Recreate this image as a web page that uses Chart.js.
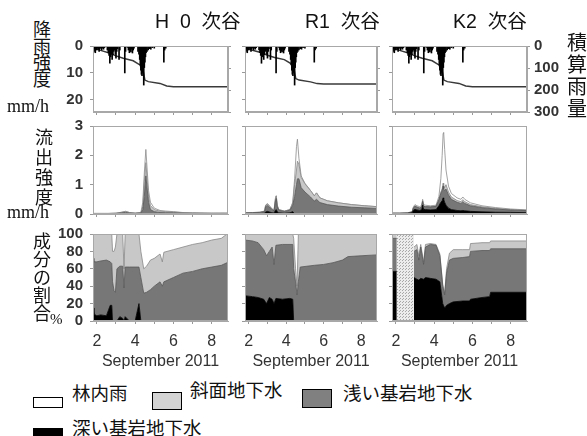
<!DOCTYPE html>
<html>
<head>
<meta charset="utf-8">
<script src="https://cdn.jsdelivr.net/npm/chart.js@4.4.1/dist/chart.umd.min.js"></script>
<style>
body { margin:0; background:#fff; width:587px; height:436px; overflow:hidden; position:relative;
       font-family:'Liberation Sans','Noto Sans CJK JP',sans-serif; }
canvas { position:absolute; }
.t { position:absolute; white-space:nowrap; color:#111; z-index:5; }
.jp { font-family:'Noto Sans CJK JP',sans-serif; }
.serif { font-family:'Liberation Serif',serif; }
.box { position:absolute; box-sizing:border-box; border:1.5px solid #000; z-index:5; }
</style>
</head>
<body>

<!-- titles -->
<div class="t" style="left:155px;top:9px;font-size:19.5px;line-height:22px;">H&nbsp;&nbsp;0&nbsp;&nbsp;<span class="jp">次谷</span></div>
<div class="t" style="left:305px;top:9px;font-size:19.5px;line-height:22px;">R1&nbsp;&nbsp;<span class="jp">次谷</span></div>
<div class="t" style="left:453px;top:9px;font-size:19.5px;line-height:22px;">K2&nbsp;&nbsp;<span class="jp">次谷</span></div>

<!-- axis labels -->
<div class="t jp" style="left:33px;top:20px;font-size:18px;line-height:16.5px;">降<br>雨<br>強<br>度</div>
<div class="t serif" style="left:7px;top:97px;font-size:18px;line-height:18px;">mm/h</div>
<div class="t jp" style="left:35px;top:126px;font-size:18px;line-height:20px;">流<br>出<br>強<br>度</div>
<div class="t serif" style="left:7px;top:203px;font-size:18px;line-height:18px;">mm/h</div>
<div class="t jp" style="left:33px;top:231px;font-size:18px;line-height:18px;">成<br>分<br>の<br>割<br>合</div>
<div class="t serif" style="left:50px;top:312px;font-size:15px;line-height:15px;">%</div>
<div class="t jp" style="left:567px;top:31px;font-size:20px;line-height:22px;">積<br>算<br>雨<br>量</div>

<!-- legend -->
<div class="box" style="left:33px;top:397px;width:30px;height:11px;background:#fff;"></div>
<div class="t jp" style="left:72px;top:382px;font-size:18.5px;line-height:20px;">林内雨</div>
<div class="box" style="left:152px;top:392px;width:30px;height:18px;background:#d3d3d3;"></div>
<div class="t jp" style="left:190px;top:379px;font-size:18.5px;line-height:20px;">斜面地下水</div>
<div class="box" style="left:302px;top:389px;width:30px;height:19px;background:#808080;"></div>
<div class="t jp" style="left:343px;top:382px;font-size:18.5px;line-height:20px;">浅い基岩地下水</div>
<div class="box" style="left:33px;top:428px;width:30px;height:9px;background:#000;"></div>
<div class="t jp" style="left:72px;top:417px;font-size:18.5px;line-height:20px;">深い基岩地下水</div>

<script>
"use strict";

// ---------------- data (days of September 2011) ----------------

// rainfall intensity, mm/h (same gauge pattern for all three catchments)
var rainTime = [1.85,1.88,1.92,1.96,2.0,2.04,2.08,2.12,2.16,2.2,2.25,2.3,2.35,2.4,
	2.55,2.6,2.64,2.68,2.72,2.76,2.8,2.84,2.88,2.92,2.97,3.0,3.04,3.08,3.16,3.2,
	3.46,3.5,
	3.6,3.65,3.7,3.74,3.78,3.82,3.86,3.9,3.94,
	4.15,4.2,4.24,4.27,4.3,4.33,4.36,4.39,4.42,4.45,4.48,4.51,4.54,4.57,
	4.62,4.68,4.75,4.82,4.9,5.0,
	5.5,5.54,5.6];
var rainRate = [2,1,2.5,1,1.5,0.8,1.2,2,1,0.6,1.5,0.8,1.2,0.6,
	1.5,2.5,3.5,6.4,4,3,5,3.2,2,1.5,3,4.5,2,1,5,1.5,
	10,2,
	0.5,1.5,2.5,1.8,2.2,1.2,2.6,1.5,0.8,
	2,3,5,7,9,10.5,11,9.5,10,14.5,8,6,4,2.5,
	2,1.5,1,1.2,0.6,0.8,
	6,1.5,0.8];

// cumulative rainfall, mm
var cumTime = [1.8,1.85,2.2,2.69,3.0,3.38,3.9,4.25,4.43,4.51,4.69,5.3,5.65,6.0,8.85];
var cumH0 = [0,10,20,33,45,56,67,86,117,155,162,170,182,185,185];
var cumR1 = [0,9,19,31,42,52,62,80,110,148,155,163,171,173,173];
var cumK2 = [0,10,20,33,45,56,67,86,117,155,162,170,182,185,185];

// runoff components, mm/h  (deep bedrock, shallow bedrock, slope groundwater, throughfall)
var flowTimeH0 = [1.8,2.2,2.6,3.0,3.3,3.5,3.7,4.0,4.3,4.4,4.48,4.56,4.62,4.7,4.8,5.0,5.3,5.6,6.0,6.5,7.0,8.0,8.85];
var deepH0    = [0.002,0.002,0.002,0.003,0.004,0.005,0.003,0,0.005,0,0,0,0,0,0,0,0,0,0,0,0,0,0];
var shallowH0 = [0.012,0.013,0.013,0.012,0.035,0.05,0.03,0.02,0.027,0.15,0.6,1.3,0.9,0.4,0.15,0.08,0.05,0.045,0.04,0.026,0.022,0.018,0.019];
var slopeH0   = [0.006,0.005,0.005,0.015,0.021,0.035,0.017,0.01,0.018,0.1,0.5,0.45,0.35,0.2,0.14,0.07,0.045,0.035,0.028,0.017,0.014,0.01,0.01];
var throughH0 = [0,0,0,0,0,0,0,0,0,0.15,0.3,0.45,0.35,0.2,0.11,0.05,0.025,0.02,0.012,0.007,0.004,0.002,0.001];

var flowTimeR1 = [1.8,2.2,2.6,2.85,2.9,3.0,3.1,3.2,3.35,3.43,3.47,3.52,3.6,3.9,4.2,4.35,4.45,4.55,4.6,4.68,4.8,5.0,5.3,5.5,5.62,5.8,6.2,6.8,7.5,8.2,8.85];
var deepR1    = [0.011,0.014,0.016,0.025,0.07,0.09,0.07,0.05,0.03,0.13,0.15,0.08,0.04,0.025,0.04,0.08,0,0,0,0,0,0,0,0,0,0,0,0,0,0,0];
var shallowR1 = [0.025,0.031,0.038,0.06,0.18,0.21,0.17,0.12,0.075,0.33,0.38,0.18,0.09,0.06,0.09,0.22,0.6,1.0,1.2,1.2,0.9,0.75,0.58,0.44,0.5,0.39,0.32,0.27,0.23,0.21,0.19];
var slopeR1   = [0.004,0.005,0.006,0.015,0.05,0.05,0.04,0.03,0.015,0.09,0.09,0.04,0.02,0.015,0.02,0.07,0.4,0.5,0.6,0.5,0.35,0.28,0.22,0.18,0.22,0.16,0.13,0.11,0.09,0.07,0.06];
var throughR1 = [0,0,0,0,0,0,0,0,0,0,0,0,0,0,0,0.03,0.2,0.8,0.75,0.2,0.05,0.02,0,0,0,0,0,0,0,0,0];

var flowTimeK2 = [1.8,2.2,2.6,2.85,2.92,3.0,3.1,3.25,3.35,3.4,3.45,3.55,3.8,4.1,4.25,4.35,4.42,4.47,4.5,4.55,4.62,4.75,4.9,5.2,5.4,5.5,5.6,5.9,6.5,7.2,8.0,8.85];
var deepK2    = [0.017,0.017,0.02,0.04,0.13,0.16,0.14,0.12,0.15,0.3,0.16,0.15,0.14,0.15,0.28,0.4,0.45,0.55,0.5,0.4,0.3,0.2,0.15,0.12,0.11,0.12,0.11,0.09,0.075,0.06,0.055,0.046];
var shallowK2 = [0.01,0.01,0.015,0.025,0.08,0.1,0.09,0.08,0.09,0.13,0.1,0.1,0.1,0.11,0.2,0.3,0.35,0.4,0.35,0.4,0.55,0.45,0.35,0.28,0.25,0.3,0.25,0.19,0.14,0.11,0.08,0.07];
var slopeK2   = [0.001,0.001,0.002,0.004,0.01,0.02,0.02,0.01,0.02,0.02,0.02,0.01,0.01,0.01,0.03,0.05,0.06,0.1,0.08,0.1,0.15,0.1,0.08,0.06,0.06,0.07,0.06,0.04,0.03,0.025,0.015,0.012];
var throughK2 = [0.002,0.002,0.003,0.011,0.03,0.04,0.03,0.04,0.04,0.05,0.04,0.04,0.03,0.03,0.09,0.45,1.14,1.7,1.85,1.3,0.5,0.2,0.12,0.09,0.08,0.09,0.08,0.06,0.035,0.025,0.02,0.012];

// component shares, %  (deep, shallow, slope; rest up to 100 is throughfall)
var pctTimeH0 = [1.8,1.85,2.0,2.2,2.5,2.7,2.78,2.82,2.9,2.97,3.05,3.2,3.35,3.42,3.48,3.7,4.0,4.2,4.3,4.45,4.6,4.8,5.0,5.3,5.42,5.5,6.0,6.5,7.0,7.5,8.0,8.5,8.8,8.85];
var pctDeepH0    = [15,8,6,7,6,18,18,0,0,0,0,5,3,0,5,0,0,20,0,0,0,0,0,0,0,0,0,0,0,0,0,0,0,0];
var pctShallowH0 = [57,60,62,62,64,50,48,45,35,33,60,58,60,38,57,62,62,42,50,32,33,36,40,45,40,45,50,55,57,60,62,64,67,67];
var pctSlopeH0   = [28,32,32,31,30,32,34,35,45,52,40,37,37,22,38,38,38,38,30,28,30,34,32,32,28,34,32,30,31,30,31,31,33,33];

var pctTimeR1 = [1.8,2.2,2.5,2.8,2.95,3.1,3.25,3.35,3.45,3.8,4.2,4.35,4.4,4.5,4.58,4.65,4.75,5.5,6.0,6.5,7.0,7.3,8.0,8.85];
var pctDeepR1    = [29,28,27,25,20,27,25,20,26,25,26,25,0,0,0,0,0,0,0,0,0,0,0,0];
var pctShallowR1 = [64,64,63,57,55,53,60,45,61,63,62,63,60,45,30,45,62,64,65,67,70,74,75,76];
var pctSlopeR1   = [7,8,10,18,25,20,15,35,13,12,12,12,35,15,10,55,38,36,35,33,30,26,25,24];

// K2: no separation between 2.05 and 2.95 (null = missing)
var pctTimeK2 = [1.8,2.05,2.5,2.95,3.1,3.2,3.3,3.45,3.55,3.8,4.1,4.3,4.45,4.55,4.65,4.8,5.0,5.5,5.85,5.9,6.5,6.9,6.95,8.85];
var pctDeepK2    = [57,57,null,50,48,47,49,48,50,49,48,45,20,15,18,20,22,23,23,25,27,28,33,33];
var pctShallowK2 = [38,38,null,30,34,23,36,17,35,39,39,30,20,15,37,50,50,50,51,55,54,53,50,50];
var pctSlopeK2   = [5,5,null,5,6,5,3,3,3,1,1,2,2,2,5,8,10,9,8,9,9,9,9,9];
var missingK2Time = [2.05,2.95];
var missingK2Pct  = [100,100];

// tick labels
var dayTicks  = [2,4,6,8];
var rainTicks = [0,10,20];
var cumTicks  = [0,100,200,300];
var flowTicks = [0,1,2,3];
var pctTicks  = [0,20,40,60,80,100];

// ---------------- layout ----------------
var COL_X = [93, 245, 392];
var COL_W = [135, 132, 135];
var ROW_Y = [46, 126, 234];
var ROW_H = [66, 88, 87];
// MT must stay above half a tick label + tick padding, or chart.js pushes the plot down
var ML = 40, MR = 40, MT = 20, MB = 50;

var C_DEEP = '#000000', C_SHALLOW = '#777777', C_SLOPE = '#c8c8c8', C_THROUGH = '#ffffff';

function pts(xs, ys) {
	return xs.map(function(x, i) { return {x: x, y: ys[i]}; });
}

// fixed tick list for an axis
function fixTicks(list) {
	return function(scale) {
		scale.ticks = list.map(function(v) { return {value: v}; });
	};
}

// draws the light frame round the plot area
var framePlugin = {
	id: 'frame',
	afterDraw: function(chart) {
		var a = chart.chartArea, c = chart.ctx;
		c.save();
		c.strokeStyle = '#a8a8a8';
		c.lineWidth = 1;
		c.strokeRect(a.left + 0.5, a.top + 0.5, a.right - a.left - 1, a.bottom - a.top - 1);
		c.restore();
	}
};

function hatchPattern() {
	var p = document.createElement('canvas');
	p.width = 3; p.height = 3;
	var c = p.getContext('2d');
	c.fillStyle = '#ececec'; c.fillRect(0, 0, 3, 3);
	c.fillStyle = '#a8a8a8'; c.fillRect(0, 0, 1, 1); c.fillRect(2, 1, 1, 1);
	return c.createPattern(p, 'repeat');
}

function xScale(row) {
	return {
		type: 'linear', min: 1.8, max: 8.85, offset: false,
		grid: { drawOnChartArea: false, tickLength: 3, color: '#999', offset: false },
		border: { color: '#a8a8a8' },
		ticks: {
			stepSize: 1, includeBounds: false, autoSkip: false, maxRotation: 0,
			display: row === 2, padding: 8, color: '#333',
			font: { family: 'Liberation Sans', size: 16 },
			callback: function(v) { return dayTicks.indexOf(v) >= 0 ? String(v) : ''; }
		},
		title: {
			display: row === 2, text: 'September 2011', color: '#333',
			font: { family: 'Liberation Sans', size: 16 }, padding: { top: 2, bottom: 0 }
		},
		afterFit: function(s) { s.height = MB; }
	};
}

function yScale(col, list, opts) {
	return Object.assign({
		grid: { drawOnChartArea: false, tickLength: 3, color: '#999' },
		border: { color: '#a8a8a8' },
		ticks: {
			autoSkip: false, display: col === 0, padding: 7, color: '#333',
			font: { family: 'Liberation Sans', size: 15, weight: 'bold' }
		},
		afterBuildTicks: fixTicks(list),
		afterFit: function(s) { s.width = ML; }
	}, opts);
}

function addPanel(col, row, type, datasets, scales) {
	var cv = document.createElement('canvas');
	cv.width = COL_W[col] + ML + MR;
	cv.height = ROW_H[row] + MT + MB;
	cv.style.left = (COL_X[col] - ML) + 'px';
	cv.style.top = (ROW_Y[row] - MT) + 'px';
	document.body.appendChild(cv);
	var hasRight = !!scales.y2;
	return new Chart(cv.getContext('2d'), {
		type: type,
		data: { datasets: datasets },
		options: {
			responsive: false, animation: false, devicePixelRatio: 1,
			layout: { padding: { top: MT, right: hasRight ? 0 : MR, left: 0, bottom: 0 } },
			plugins: { legend: { display: false }, tooltip: { enabled: false } },
			elements: { point: { radius: 0 }, line: { tension: 0 } },
			scales: scales
		},
		plugins: [framePlugin]
	});
}

// ---------------- row 1 : rainfall ----------------
function rainPanel(col, cum) {
	var s = {
		x: xScale(0),
		y: yScale(col, rainTicks, { min: 0, max: 24.5, reverse: true }),
		y2: {
			position: 'right', min: 0, max: 300, reverse: true,
			grid: { drawOnChartArea: false, tickLength: 3, color: '#999' },
			border: { color: '#a8a8a8' },
			ticks: {
				autoSkip: false, display: col === 2, padding: 4, color: '#333',
				font: { family: 'Liberation Sans', size: 15, weight: 'bold' }
			},
			afterBuildTicks: fixTicks(cumTicks),
			afterFit: function(sc) { sc.width = MR; }
		}
	};
	addPanel(col, 0, 'bar', [
		{ type: 'bar', data: pts(rainTime, rainRate), backgroundColor: '#000', barThickness: 1, grouped: false },
		{ type: 'line', yAxisID: 'y2', data: pts(cumTime, cum), borderColor: '#3a3a3a', borderWidth: 1.5, pointRadius: 0, fill: false }
	], s);
}
rainPanel(0, cumH0);
rainPanel(1, cumR1);
rainPanel(2, cumK2);

// ---------------- stacked component panels ----------------
function compSets(t, deep, shallow, slope, through) {
	var sets = [
		{ data: pts(t, deep), backgroundColor: C_DEEP, borderColor: '#000', fill: 'origin' },
		{ data: pts(t, shallow), backgroundColor: C_SHALLOW, borderColor: '#555', fill: '-1' },
		{ data: pts(t, slope), backgroundColor: C_SLOPE, borderColor: '#888', fill: '-1' }
	];
	if (through) sets.push({ data: pts(t, through), backgroundColor: C_THROUGH, borderColor: '#8a8a8a', fill: '-1' });
	sets.forEach(function(d) { d.borderWidth = 0.8; d.pointRadius = 0; d.spanGaps = false; });
	return sets;
}

function flowPanel(col, t, deep, shallow, slope, through) {
	var y = yScale(col, flowTicks, { min: 0, max: 3, stacked: true });
	addPanel(col, 1, 'line', compSets(t, deep, shallow, slope, through), { x: xScale(1), y: y });
}
flowPanel(0, flowTimeH0, deepH0, shallowH0, slopeH0, throughH0);
flowPanel(1, flowTimeR1, deepR1, shallowR1, slopeR1, throughR1);
flowPanel(2, flowTimeK2, deepK2, shallowK2, slopeK2, throughK2);

function pctPanel(col, t, deep, shallow, slope, extra) {
	var y = yScale(col, pctTicks, { min: 0, max: 100, stacked: true });
	var sets = compSets(t, deep, shallow, slope, null);
	if (extra) sets.push(extra);
	addPanel(col, 2, 'line', sets, { x: xScale(2), y: y });
}
pctPanel(0, pctTimeH0, pctDeepH0, pctShallowH0, pctSlopeH0);
pctPanel(1, pctTimeR1, pctDeepR1, pctShallowR1, pctSlopeR1);
pctPanel(2, pctTimeK2, pctDeepK2, pctShallowK2, pctSlopeK2, {
	data: pts(missingK2Time, missingK2Pct), stack: 'missing', fill: 'origin',
	backgroundColor: hatchPattern(), borderWidth: 0, pointRadius: 0
});
</script>
</body>
</html>
